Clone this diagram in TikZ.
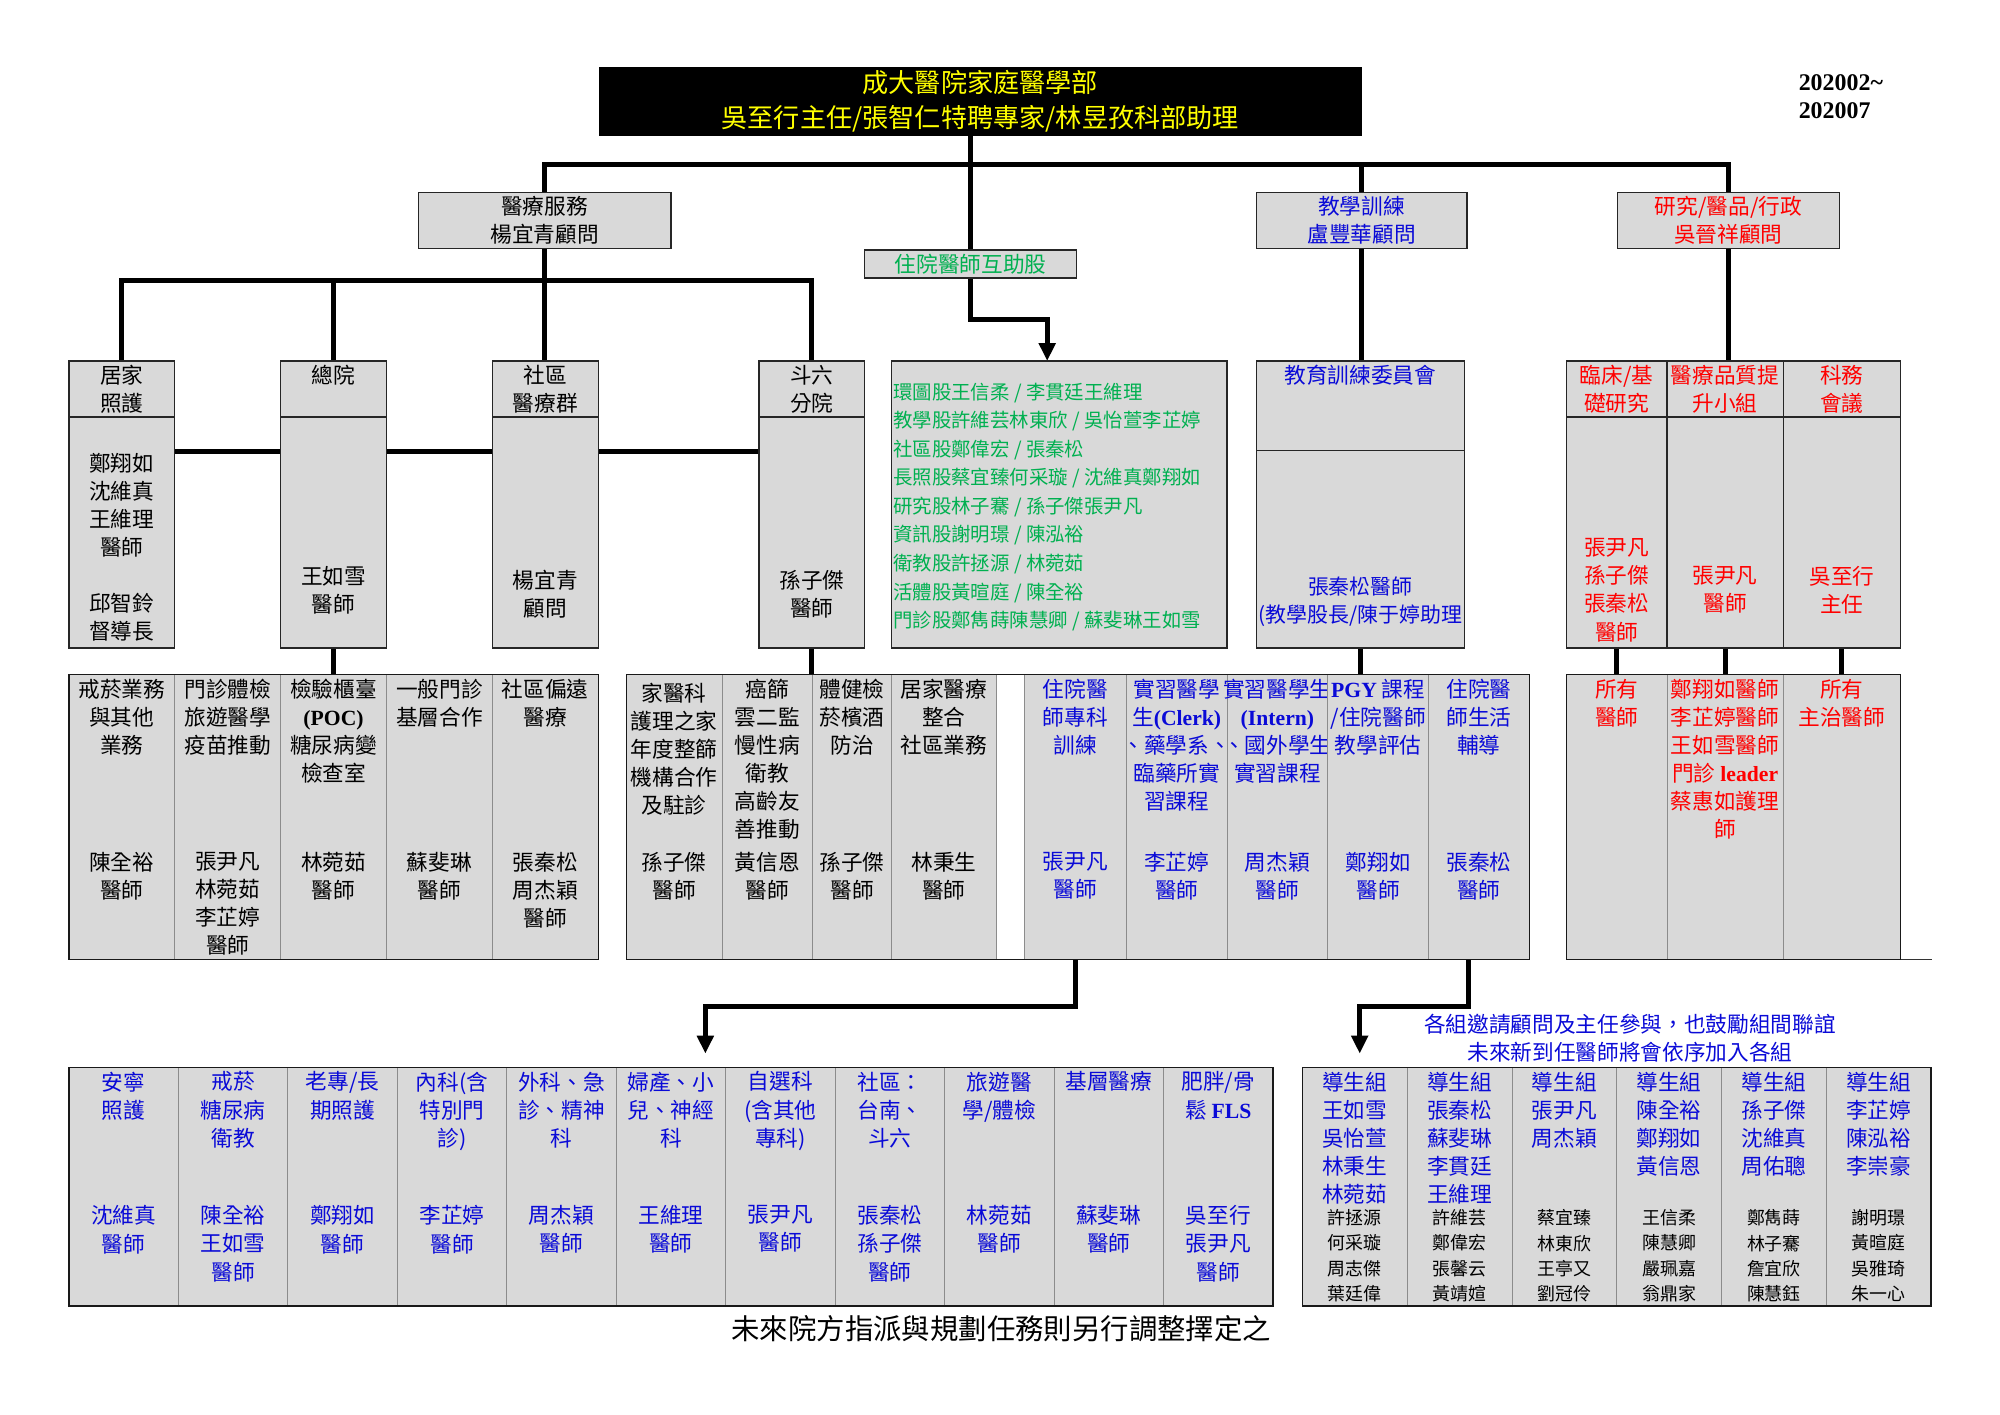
\documentclass[tikz,border=0pt]{standalone}
\usepackage{fontspec}
\setmainfont{Noto Sans CJK TC}
\newfontfamily\lat{Liberation Serif}
\usetikzlibrary{positioning,arrows.meta,fit,backgrounds}
\definecolor{cellgray}{RGB}{217,217,217}
\definecolor{ttlyel}{RGB}{255,255,0}
\definecolor{grn}{RGB}{0,176,80}
\definecolor{blu}{RGB}{10,10,215}
\definecolor{rd}{RGB}{255,0,0}
\newcommand\fsbody{\fontsize{14.5pt}{18.8pt}\selectfont}
\newcommand\fsgreen{\fontsize{13pt}{19.1pt}\selectfont}
\newcommand\fsttl{\fontsize{17.5pt}{23pt}\selectfont}
\newcommand\fssmall{\fontsize{12pt}{17pt}\selectfont}
\newcommand\fsfoot{\fontsize{19pt}{23pt}\selectfont}
\newcommand\fsdate{\fontsize{16pt}{18.8pt}\selectfont}

\begin{document}
\begin{tikzpicture}[x=0.3mm, y=-0.3mm,
  box/.style={draw=black!85, fill=cellgray, line width=0.9pt, inner sep=0pt},
  cellbox/.style={draw=black!45, fill=cellgray, line width=0.5pt, inner sep=0pt},
  grpbox/.style={draw=black!90, line width=0.9pt, inner sep=0pt},
  txt/.style={font=\fsbody, align=center, inner sep=0pt, anchor=north},
  mid/.style={font=\fsbody, align=center, inner sep=0pt},
  link/.style={line width=3.2pt},
  arr/.style={link, -{Triangle[length=4.2mm, width=3.8mm]}}]
  \useasboundingbox (0,0) rectangle (1568,1109);

  % head of the department
  \node[box, fill=black, draw=black, fit={(470,53) (1067,106)}] (title) {};
  \node[mid, font=\fsttl, text=ttlyel] (title-t) at (title.center)
    {成大醫院家庭醫學部\\吳至行主任/張智仁特聘專家/林昱孜科部助理};
  \node[anchor=north west, inner sep=0pt, align=left, font=\lat\bfseries\fsdate] (date) at (1410,58)
    {202002\textasciitilde\\202007};

  % second level
  \node[box, fit={(328,151) (526,195)}] (med) {};
  \node[mid] (med-t) at (med.center) {醫療服務\\楊宜青顧問};
  \node[box, fit={(985,151) (1150,195)}] (edu) {};
  \node[mid, text=blu] (edu-t) at (edu.center) {教學訓練\\盧豐華顧問};
  \node[box, fit={(1268,151) (1442,195)}] (res) {};
  \node[mid, text=rd] (res-t) at (res.center) {研究/醫品/行政\\吳晉祥顧問};
  \node[box, fit={(678,196) (844,218)}] (mutual) {};
  \node[mid, text=grn] (mutual-t) at (mutual.center) {住院醫師互助股};

  % medical service units
  \foreach \n/\xa/\xb/\hd/\nm/\ny in {
      jujia/54/137/{居家\\照護}/{鄭翔如\\沈維真\\王維理\\醫師\\[18.8pt]邱智鈴\\督導長}/355,
      zongyuan/220/303/{總院}/{王如雪\\醫師}/444,
      shequ/386/469/{社區\\醫療群}/{楊宜青\\顧問}/447,
      douliu/595/678/{斗六\\分院}/{孫子傑\\醫師}/447} {
    \node[box, fit={(\xa,283) (\xb,327)}] (\n-h) {};
    \node[box, fit={(\xa,327) (\xb,508)}] (\n) {};
    \node[txt] (\n-ht) at ({(\xa+\xb)/2},286) {\hd};
    \node[txt] (\n-bt) at ({(\xa+\xb)/2},\ny) {\nm};
  }

  % resident sections
  \node[box, fit={(699,283) (962,508)}] (green) {};
  \node[anchor=north west, inner sep=0pt, align=left, font=\fsgreen, text=grn] (green-t) at (700,300)
    {環圖股王信柔 / 李貫廷王維理\\
     教學股許維芸林東欣 / 吳怡萱李芷婷\\
     社區股鄭偉宏 / 張秦松\\
     長照股蔡宜臻何采璇 / 沈維真鄭翔如\\
     研究股林子騫 / 孫子傑張尹凡\\
     資訊股謝明璟 / 陳泓裕\\
     衛教股許拯源 / 林菀茹\\
     活體股黃暄庭 / 陳全裕\\
     門診股鄭雋蒔陳慧卿 / 蘇斐琳王如雪};

  % teaching committee
  \node[box, fit={(985,283) (1148,353)}] (edu-h) {};
  \node[box, fit={(985,353) (1148,508)}] (educ) {};
  \node[txt, text=blu] (edu-ht) at (1066.5,286) {教育訓練委員會};
  \node[txt, text=blu, font=\fontsize{14pt}{18.8pt}\selectfont] (edu-bt) at (1066.5,452)
    {張秦松醫師\\(教學股長/陳于婷助理};

  % research units
  \foreach \n/\xa/\xb/\hd/\nm/\ny in {
      r1/1228/1307/{臨床/基\\礎研究}/{張尹凡\\孫子傑\\張秦松\\醫師}/422,
      r2/1307/1398/{醫療品質提\\升小組}/{張尹凡\\醫師}/444,
      r3/1398/1490/{科務\\會議}/{吳至行\\主任}/444} {
    \node[box, fit={(\xa,283) (\xb,327)}] (\n-h) {};
    \node[box, fit={(\xa,327) (\xb,508)}] (\n) {};
    \node[txt, text=rd] (\n-ht) at ({(\xa+\xb)/2},286) {\hd};
    \node[txt, text=rd] (\n-bt) at ({(\xa+\xb)/2},\ny) {\nm};
  }

  % third level tasks
  \foreach \n/\xa/\xb/\col/\ty/\hd/\nm in {
      ga1/54/137/black/532/{戒菸業務\\與其他\\業務}/{陳全裕\\醫師},
      ga2/137/220/black/532/{門診體檢\\旅遊醫學\\疫苗推動}/{張尹凡\\林菀茹\\李芷婷\\醫師},
      ga3/220/303/black/532/{檢驗櫃臺\\{\lat\bfseries (POC)}\\糖尿病變\\檢查室}/{林菀茹\\醫師},
      ga4/303/386/black/532/{一般門診\\基層合作}/{蘇斐琳\\醫師},
      ga5/386/469/black/532/{社區偏遠\\醫療}/{張秦松\\周杰穎\\醫師},
      gb1/491/566/black/535/{家醫科\\護理之家\\年度整篩\\機構合作\\及駐診}/{孫子傑\\醫師},
      gb2/566/637/black/532/{癌篩\\雲二監\\慢性病\\衛教\\高齡友\\善推動}/{黃信恩\\醫師},
      gb3/637/699/black/532/{體健檢\\菸檳酒\\防治}/{孫子傑\\醫師},
      gb4/699/781/black/532/{居家醫療\\整合\\社區業務}/{林秉生\\醫師},
      b1/803/883/blu/532/{住院醫\\師專科\\訓練}/{張尹凡\\醫師},
      b2/883/962/blu/532/{實習醫學\\生{\lat\bfseries (Clerk)}\\、藥學系、\\臨藥所實\\習課程}/{李芷婷\\醫師},
      b3/962/1041/blu/532/{實習醫學生\\{\lat\bfseries (Intern)}\\、國外學生\\實習課程}/{周杰穎\\醫師},
      b4/1041/1120/blu/532/{{\lat\bfseries PGY} 課程\\/住院醫師\\教學評估}/{鄭翔如\\醫師},
      b5/1120/1199/blu/532/{住院醫\\師生活\\輔導}/{張秦松\\醫師},
      d1/1228/1307/rd/532/{所有\\醫師}/{},
      d2/1307/1398/rd/532/{鄭翔如醫師\\李芷婷醫師\\王如雪醫師\\門診 {\lat\bfseries leader}\\蔡惠如護理\\師}/{},
      d3/1398/1490/rd/532/{所有\\主治醫師}/{}} {
    \node[cellbox, fit={(\xa,529) (\xb,752)}] (\n) {};
    \node[txt, text=\col] (\n-a) at ({(\xa+\xb)/2},\ty) {\hd};
    \node[txt, text=\col] (\n-b) at ({(\xa+\xb)/2},668) {\nm};
  }
  \node[grpbox, fit={(54,529) (469,752)}] (grpA) {};
  \node[grpbox, fit={(491,529) (1199,752)}] (grpB) {};
  \node[grpbox, fit={(1228,529) (1490,752)}] (grpD) {};
  \draw[black!80, line width=0.8pt] (grpD.south east) -- ++(24,0);

  % fourth level: specialty groups
  \foreach \i/\hd/\nm in {
      0/{安寧\\照護}/{沈維真\\醫師},
      1/{戒菸\\糖尿病\\衛教}/{陳全裕\\王如雪\\醫師},
      2/{老專/長\\期照護}/{鄭翔如\\醫師},
      3/{內科(含\\特別門\\診)}/{李芷婷\\醫師},
      4/{外科、急\\診、精神\\科}/{周杰穎\\醫師},
      5/{婦產、小\\兒、神經\\科}/{王維理\\醫師},
      6/{自選科\\(含其他\\專科)}/{張尹凡\\醫師},
      7/{社區：\\台南、\\斗六}/{張秦松\\孫子傑\\醫師},
      8/{旅遊醫\\學/體檢}/{林菀茹\\醫師},
      9/{基層醫療}/{蘇斐琳\\醫師},
      10/{肥胖/骨\\鬆 {\lat\bfseries FLS}}/{吳至行\\張尹凡\\醫師}} {
    \pgfmathsetmacro\xa{54+\i*85.82}
    \pgfmathsetmacro\xb{\xa+85.82}
    \node[cellbox, fit={(\xa,837) (\xb,1024)}] (l\i) {};
    \node[txt, text=blu] (l\i-a) at ({(\xa+\xb)/2},840) {\hd};
    \node[txt, text=blu] (l\i-b) at ({(\xa+\xb)/2},945) {\nm};
  }
  \node[grpbox, fit={(54,837) (998,1024)}] (grpL) {};

  % fourth level: tutor groups
  \foreach \i/\hd/\nm in {
      0/{導生組\\王如雪\\吳怡萱\\林秉生\\林菀茹}/{許拯源\\何采璇\\周志傑\\葉廷偉},
      1/{導生組\\張秦松\\蘇斐琳\\李貫廷\\王維理}/{許維芸\\鄭偉宏\\張馨云\\黃靖媗},
      2/{導生組\\張尹凡\\周杰穎}/{蔡宜臻\\林東欣\\王亭又\\劉冠伶},
      3/{導生組\\陳全裕\\鄭翔如\\黃信恩}/{王信柔\\陳慧卿\\嚴珮嘉\\翁鼎家},
      4/{導生組\\孫子傑\\沈維真\\周佑聰}/{鄭雋蒔\\林子騫\\詹宜欣\\陳慧鈺},
      5/{導生組\\李芷婷\\陳泓裕\\李崇豪}/{謝明璟\\黃暄庭\\吳雅琦\\朱一心}} {
    \pgfmathsetmacro\xa{1021+\i*82.17}
    \pgfmathsetmacro\xb{\xa+82.17}
    \node[cellbox, fit={(\xa,837) (\xb,1024)}] (t\i) {};
    \node[txt, text=blu] (t\i-a) at ({(\xa+\xb)/2},840) {\hd};
    \node[txt, font=\fssmall] (t\i-b) at ({(\xa+\xb)/2},948) {\nm};
  }
  \node[grpbox, fit={(1021,837) (1514,1024)}] (grpR) {};

  \node[mid, text=blu] (note) at (1278,814)
    {各組邀請顧問及主任參與，也鼓勵組間聯誼\\未來新到任醫師將會依序加入各組};
  \node[mid, font=\fsfoot] (foot) at (785,1042) {未來院方指派與規劃任務則另行調整擇定之};

  % connectors
  \begin{scope}[on background layer]
    \coordinate (bus) at (761,129);
    \coordinate (mbus) at (428,220);
    \coordinate (hbar) at (0,354);
    \coordinate (gin) at (821,283);
    \coordinate (arrL) at (553,826);
    \coordinate (arrR) at (1066,826);
    \draw[link] (title.south -| bus) -- (mutual.north);
    \draw[link] (med.north) |- (bus) -| (res.north);
    \draw[link] (edu.north) -- (edu.north |- bus);
    \draw[arr] (mutual.south) -- ++(0,32) -| (gin);
    \draw[link] (med.south) -- (med.south |- shequ-h.north);
    \draw[link] (jujia-h.north) |- (mbus) -| (douliu-h.north);
    \draw[link] (zongyuan-h.north) -- (zongyuan-h.north |- mbus);
    \draw[link] (jujia.east |- hbar) -- (douliu.west |- hbar);
    \draw[link] (edu.south) -- (edu.south |- edu-h.north);
    \draw[link] (res.south) -- (res.south |- r2-h.north);
    \draw[link] (zongyuan.south) -- (zongyuan.south |- grpA.north);
    \draw[link] (douliu.south) -- (douliu.south |- grpB.north);
    \draw[link] (educ.south) -- (educ.south |- grpB.north);
    \foreach \n in {r1,r2,r3}
      \draw[link] (\n.south) -- (\n.south |- grpD.north);
    \draw[arr] (b1.south) -- ++(0,37) -| (arrL);
    \draw[arr] ([xshift=-2.5mm]b5.south) -- ++(0,37) -| (arrR);
  \end{scope}
\end{tikzpicture}
\end{document}
